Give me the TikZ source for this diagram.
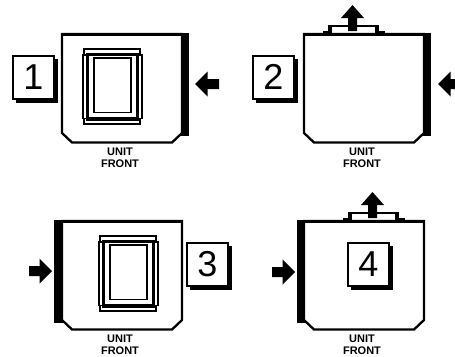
\documentclass[tikz,border=0pt]{standalone}
\usepackage{fontspec}
\setmainfont{Liberation Sans}
\tikzset{
  x=1pt,y=-1pt,
  bodyline/.style={draw=black,line width=2.3pt,fill=white,line join=miter},
  barfill/.style={fill=black,draw=none},
  winline/.style={draw=black,line width=1.9pt,fill=white},
  numbox/.style={draw=black,line width=1.8pt,fill=white,minimum width=41pt,minimum height=43pt,inner sep=0pt,font=\fontsize{36}{36}\selectfont},
  unitlabel/.style={align=center,font=\fontsize{11}{11.2}\selectfont\bfseries,inner sep=0pt},
}
\newcommand{\unitbody}[2]{%
  \begin{scope}[shift={(#1,#2)}]
    \draw[bodyline] (0,0) -- (120,0) -- (120,99) -- (110,108.5) -- (10,108.5) -- (0,99) -- cycle;
    \draw[draw=black,line width=2.6pt] (-1,0.2) -- (121,0.2);
  \end{scope}}
\newcommand{\unitwindow}[2]{%
  \begin{scope}[shift={(#1,#2)}]
    \draw[winline] (0.2,0) rectangle (56,75);
    \draw[winline] (-1,6) rectangle (57.7,69.5);
    \draw[draw=black,line width=2.7pt] (3.3,5) rectangle (53.3,70);
    \fill[black] (2,68) rectangle (54.7,72.3);
    \draw[winline] (10.2,9.2) rectangle (47.2,63.5);
  \end{scope}}
\newcommand{\numlabel}[4]{%
  \fill[black] (#1+4,#2+4) rectangle (#1+46,#2+47.5);
  \node[numbox,anchor=north west] (#4) at (#1,#2) {#3};}
\newcommand{\leftarrowhead}[2]{% tip x,y
  \fill[black] (#1,#2) -- (#1+12.5,#2-12.5) -- (#1+12.5,#2-5) -- (#1+24,#2-5) -- (#1+24,#2+5) -- (#1+12.5,#2+5) -- (#1+12.5,#2+12.5) -- cycle;}
\newcommand{\rightarrowhead}[2]{%
  \fill[black] (#1,#2) -- (#1-12.5,#2-12.5) -- (#1-12.5,#2-5) -- (#1-23,#2-5) -- (#1-23,#2+5) -- (#1-12.5,#2+5) -- (#1-12.5,#2+12.5) -- cycle;}
\newcommand{\uparrowhead}[2]{%
  \fill[black] (#1,#2) -- (#1+11.5,#2+13) -- (#1+4.5,#2+13) -- (#1+4.5,#2+26) -- (#1-4.5,#2+26) -- (#1-4.5,#2+13) -- (#1-11.5,#2+13) -- cycle;}
\newcommand{\unittab}[2]{% left x of body-tab foot, top y of body
  \fill[black] (#1,#2-3) rectangle (#1+62,#2);
  \fill[black] (#1+5,#2-9) rectangle (#1+56,#2-1);
  \fill[white] (#1+9,#2-6.7) rectangle (#1+52,#2-1);
}
\begin{document}
\begin{tikzpicture}
\useasboundingbox (0,0) rectangle (455,356);
% Panel 1
\fill[barfill] (181,33) rectangle (189,136);
\unitbody{62}{34}
\unitwindow{84}{49}
\numlabel{12}{55}{1}{one}
\leftarrowhead{195}{84}
\node[unitlabel] (u1) at (120,157.7) {UNIT\\FRONT};
% Panel 2
\fill[barfill] (423,33) rectangle (431,136);
\unittab{323}{34}
\unitbody{304}{34}
\uparrowhead{352.5}{5}
\numlabel{252}{55}{2}{two}
\leftarrowhead{438}{84}
\node[unitlabel] (u2) at (362,157.7) {UNIT\\FRONT};
% Panel 3
\fill[barfill] (54,220) rectangle (63,323);
\unitbody{62}{221}
\unitwindow{100}{236}
\numlabel{186}{242}{3}{three}
\rightarrowhead{52}{271}
\node[unitlabel] (u3) at (120,344.7) {UNIT\\FRONT};
% Panel 4
\fill[barfill] (297,220) rectangle (306,323);
\unittab{343}{221}
\unitbody{304}{221}
\uparrowhead{372.5}{192}
\numlabel{347}{242}{4}{four}
\rightarrowhead{295}{272}
\node[unitlabel] (u4) at (362,344.7) {UNIT\\FRONT};
\end{tikzpicture}
\end{document}
